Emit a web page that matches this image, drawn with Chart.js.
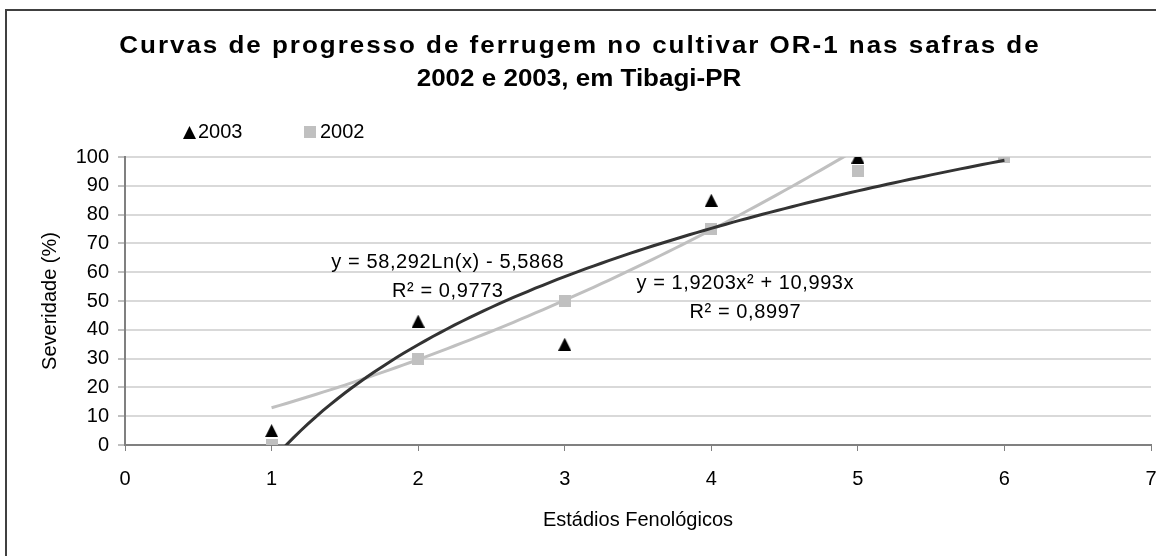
<!DOCTYPE html>
<html lang="pt-BR">
<head>
<meta charset="UTF-8">
<title>Curvas de progresso de ferrugem - OR-1</title>
<script src="https://cdn.jsdelivr.net/npm/chart.js"></script>
<style>
  html, body { margin: 0; padding: 0; background: #fff; }
  #wrap { width: 1156px; height: 556px; position: relative; }
</style>
</head>
<body>
<div id="wrap"><canvas id="rustChart"></canvas></div>
<script>
// severidade observada por estádio fenológico
var stages2003 = [1, 2, 3, 4, 5];
var severity2003 = [5, 43, 35, 85, 100];
var stages2002 = [1, 2, 3, 4, 5, 6];
var severity2002 = [0, 30, 50, 75, 95, 100];

// coeficientes das linhas de tendência, como impressos no gráfico
var logCoef = [58.292, -5.5868];   // y = a*Ln(x) + b
var logR2 = 0.9773;
var polyCoef = [1.9203, 10.993];   // y = a*x^2 + b*x
var polyR2 = 0.8997;

var xRange = [0, 7];
var yRange = [0, 100];

var FONT = '"Liberation Sans", Arial, sans-serif';
var titleLines = [
  { text: 'Curvas de progresso de ferrugem no cultivar OR-1 nas safras de', y: 47, spacing: 1.75 },
  { text: '2002 e 2003, em Tibagi-PR', y: 80, spacing: 0 }
];

function toPoints(xs, ys) {
  return xs.map(function (x, i) { return { x: x, y: ys[i] }; });
}

// curva de tendência avaliada sobre o intervalo de estádios
function trendPoints(fn, from, to) {
  var pts = [];
  for (var i = 0; i <= 100; i++) {
    var x = from + (to - from) * i / 100;
    pts.push({ x: x, y: fn(x) });
  }
  return pts;
}

function fmt(v) { return String(v).replace('.', ','); }

function makeMarker(shape, size, color) {
  var c = document.createElement('canvas');
  c.width = size; c.height = size;
  var g = c.getContext('2d');
  g.fillStyle = color;
  if (shape === 'triangle') {
    g.beginPath();
    g.moveTo(size / 2, 0);
    g.lineTo(size, size);
    g.lineTo(0, size);
    g.closePath();
    g.fill();
  } else {
    g.fillRect(0, 0, size, size);
  }
  return c;
}

var triMarker = makeMarker('triangle', 13, '#000000');
var sqMarker = makeMarker('square', 12, '#c0c0c0');

var logCurve = trendPoints(function (x) { return logCoef[0] * Math.log(x) + logCoef[1]; }, 1, 6);
var polyCurve = trendPoints(function (x) { return polyCoef[0] * x * x + polyCoef[1] * x; }, 1, 6);

var eqLabels = [
  { at: [2.2, 63.2], lines: ['y = ' + fmt(logCoef[0]) + 'Ln(x) - ' + fmt(-logCoef[1]), 'R\u00b2 = ' + fmt(logR2)] },
  { at: [4.23, 56.2], lines: ['y = ' + fmt(polyCoef[0]) + 'x\u00b2 + ' + fmt(polyCoef[1]) + 'x', 'R\u00b2 = ' + fmt(polyR2)] }
];

// texto centrado, com espaçamento entre letras e largura esticada (sx)
function spacedText(ctx, text, cx, cy, spacing, sx) {
  ctx.save();
  ctx.letterSpacing = spacing + 'px';
  ctx.textAlign = 'left';
  var w = ctx.measureText(text).width - spacing;
  ctx.translate(cx, cy);
  ctx.scale(sx || 1, 1);
  ctx.fillText(text, -w / 2, 0);
  ctx.restore();
}

// moldura, título, legenda e equações
var decorations = {
  id: 'decorations',
  afterDraw: function (chart) {
    var ctx = chart.ctx;
    var xs = chart.scales.x, ys = chart.scales.y;
    ctx.save();

    ctx.strokeStyle = '#404040';
    ctx.lineWidth = 2;
    ctx.strokeRect(6, 10, 1300, 700);

    ctx.fillStyle = '#000';
    ctx.textBaseline = 'middle';
    ctx.font = 'bold 23px ' + FONT;
    titleLines.forEach(function (l) { spacedText(ctx, l.text, 579, l.y, l.spacing, 1.13); });

    ctx.font = '20px ' + FONT;
    ctx.textAlign = 'left';
    var legendItems = [
      { marker: triMarker, text: '2003', cx: 189, tx: 198 },
      { marker: sqMarker, text: '2002', cx: 310, tx: 320 }
    ];
    legendItems.forEach(function (it) {
      ctx.drawImage(it.marker, Math.round(it.cx - it.marker.width / 2), Math.round(132 - it.marker.height / 2));
      ctx.fillText(it.text, it.tx, 132);
    });

    eqLabels.forEach(function (lab) {
      var px = xs.getPixelForValue(lab.at[0]);
      var py = ys.getPixelForValue(lab.at[1]);
      lab.lines.forEach(function (t, i) { spacedText(ctx, t, px, py + i * 29, 0.6, 1); });
    });
    ctx.restore();
  }
};

new Chart(document.getElementById('rustChart'), {
  type: 'scatter',
  data: {
    datasets: [
      {
        label: 'Log. (2003)',
        type: 'line',
        data: logCurve,
        borderColor: '#333333',
        borderWidth: 3,
        pointRadius: 0,
        tension: 0,
        clip: 0,
        order: 0
      },
      {
        label: 'Polin. (2002)',
        type: 'line',
        data: polyCurve,
        borderColor: '#c0c0c0',
        borderWidth: 3,
        pointRadius: 0,
        tension: 0,
        clip: 0,
        order: 1
      },
      {
        label: '2003',
        data: toPoints(stages2003, severity2003),
        pointStyle: triMarker,
        order: 2
      },
      {
        label: '2002',
        data: toPoints(stages2002, severity2002),
        pointStyle: sqMarker,
        order: 3
      }
    ]
  },
  options: {
    responsive: true,
    maintainAspectRatio: false,
    animation: false,
    layout: { padding: { top: 157, right: 3, bottom: 0, left: 0 } },
    plugins: {
      legend: { display: false },
      title: { display: false },
      tooltip: { enabled: false }
    },
    scales: {
      x: {
        type: 'linear',
        min: xRange[0],
        max: xRange[1],
        ticks: { stepSize: 1, color: '#000', font: { family: FONT, size: 20 }, padding: 16 },
        grid: { drawOnChartArea: false, color: '#808080', tickLength: 6, tickWidth: 1 },
        border: { color: '#808080', width: 2 },
        title: {
          display: true, text: 'Estádios Fenológicos', color: '#000',
          font: { family: FONT, size: 20 }, padding: { top: 0, bottom: 24 }
        },
        afterFit: function (s) { s.height = 111; s.paddingLeft = 0; s.paddingRight = 0; }
      },
      y: {
        min: yRange[0],
        max: yRange[1],
        ticks: { stepSize: 10, color: '#000', font: { family: FONT, size: 20 }, padding: 9 },
        grid: { color: '#d9d9d9', lineWidth: 2, tickColor: '#808080', tickLength: 7, tickWidth: 1 },
        border: { color: '#808080', width: 2 },
        title: {
          display: true, text: 'Severidade (%)', color: '#000',
          font: { family: FONT, size: 20 }, padding: { top: 38, bottom: 0 }
        },
        afterFit: function (s) { s.width = 125; }
      }
    }
  },
  plugins: [decorations]
});
</script>
</body>
</html>
